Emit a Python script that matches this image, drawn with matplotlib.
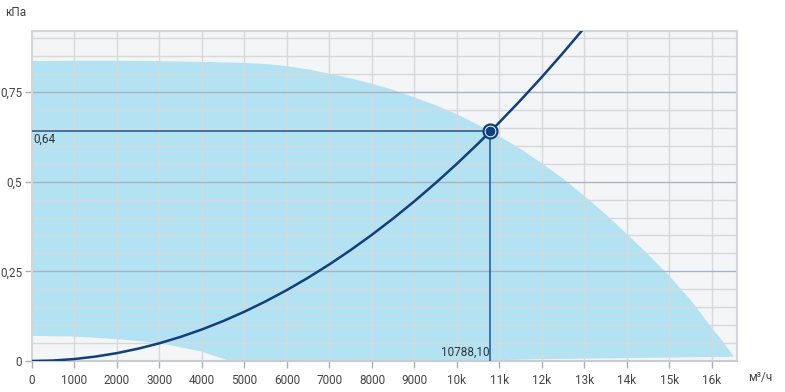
import matplotlib
matplotlib.use("Agg")
import matplotlib.pyplot as plt
import numpy as np

plt.rcParams['font.family'] = ['Roboto', 'DejaVu Sans']

# Data
upper_x = [0, 1000, 2000, 3000, 4000, 5000, 5500, 6000, 6500, 7000, 7500, 8000, 8500,
           9000, 9500, 10000, 10500, 10788, 11000, 11500, 12000, 12500, 13000, 13500,
           14000, 14500, 15000, 15500, 16000, 16250, 16500]
upper_y = [0.836, 0.837, 0.837, 0.836, 0.834, 0.831, 0.828, 0.822, 0.813, 0.801, 0.788,
           0.773, 0.756, 0.735, 0.713, 0.688, 0.658, 0.640, 0.626, 0.591, 0.551, 0.508,
           0.460, 0.409, 0.354, 0.297, 0.237, 0.170, 0.092, 0.055, 0.015]
lower_x = [0, 1000, 2000, 3000, 4000, 4650, 10000, 12000, 16500]
lower_y = [0.070, 0.068, 0.061, 0.050, 0.026, 0.0, 0.0, 0.005, 0.012]

sys_x = [0, 500, 1000, 1500, 2000, 2500, 3000, 3500, 4000, 4500, 5000, 5500, 6000,
         6500, 7000, 7500, 8000, 8500, 9000, 9500, 10000, 10500, 11000, 11500,
         12000, 12500, 13000]
sys_y = [0.0, 0.0014, 0.0055, 0.0124, 0.022, 0.0344, 0.0495, 0.0674, 0.088, 0.1114,
         0.1375, 0.1664, 0.198, 0.2324, 0.2695, 0.3094, 0.352, 0.3974, 0.4455, 0.4964,
         0.550, 0.6064, 0.6655, 0.7274, 0.792, 0.8594, 0.9295]

op_x = 10788.10
op_y = 0.64
op_x_label = "10788,10"
op_y_label = "0,64"

x_ticks = list(range(0, 17000, 1000))
x_tick_labels = ["0", "1000", "2000", "3000", "4000", "5000", "6000", "7000", "8000",
                 "9000", "10k", "11k", "12k", "13k", "14k", "15k", "16k"]
y_ticks = [0, 0.25, 0.5, 0.75]
y_tick_labels = ["0", "0,25", "0,5", "0,75"]

fig = plt.figure(figsize=(7.85, 3.92), dpi=100)
ax = fig.add_axes([32/785, 31/392, 705/785, 330/392])
ax.set_xlim(0, 16590)
ax.set_ylim(0, 0.92)
ax.set_facecolor('#f4f5f7')

# fill region
poly_x = list(upper_x) + list(lower_x[::-1])
poly_y = list(upper_y) + list(lower_y[::-1])
ax.fill(poly_x, poly_y, color='#b3e3f3', lw=0, zorder=1)

# grid
for xv in x_ticks[1:]:
    ax.axvline(xv, color='#d6d8db', lw=1, zorder=2)
for yv in np.arange(0.05, 0.92, 0.05):
    if abs(round(yv / 0.25) * 0.25 - yv) < 1e-6:
        ax.axhline(yv, color='#a9b3bf', lw=1, zorder=2)
    else:
        ax.axhline(yv, color='#d6d8db', lw=1, zorder=2)

# system curve
ax.plot(sys_x, sys_y, color='#0f3f7c', lw=1.8, zorder=4, clip_on=True)

# crosshair
ax.plot([0, op_x], [op_y, op_y], color='#1d5596', lw=1.1, zorder=3)
ax.plot([op_x, op_x], [0, op_y], color='#1d5596', lw=1.1, zorder=3)
ax.plot([op_x], [op_y], marker='o', ms=10, mfc='white', mec='#0f3f7c', mew=1.6, zorder=5)
ax.plot([op_x], [op_y], marker='o', ms=6, mfc='#0f3f7c', mec='#0f3f7c', zorder=6)

ax.text(40, op_y - 0.005, op_y_label, ha='left', va='top', fontsize=8.5, color='#333333', zorder=6)
ax.text(op_x - 30, 0.005, op_x_label, ha='right', va='bottom', fontsize=8.5, color='#333333', zorder=6)

# spines
for s in ['left', 'top', 'right']:
    ax.spines[s].set_color('#d2d5d9')
    ax.spines[s].set_linewidth(1.5)
ax.spines['bottom'].set_color('#c8cbd0')
ax.spines['bottom'].set_linewidth(1.5)

ax.set_xticks(x_ticks)
ax.set_xticklabels(x_tick_labels)
ax.set_yticks(y_ticks)
ax.set_yticklabels(y_tick_labels)
ax.tick_params(axis='both', colors='#a9b0b8', labelcolor='#444444', labelsize=8.5,
               length=5, width=1)
ax.tick_params(axis='x', pad=4)
ax.tick_params(axis='y', pad=2)

fig.text(5/785, 1 - 12/392, "кПа", ha='left', va='center', fontsize=8.5, color='#444444')
fig.text(748/785, 1 - 378/392, "м³/ч", ha='left', va='center', fontsize=8.5, color='#444444')

fig.savefig("out.png", dpi=100)
